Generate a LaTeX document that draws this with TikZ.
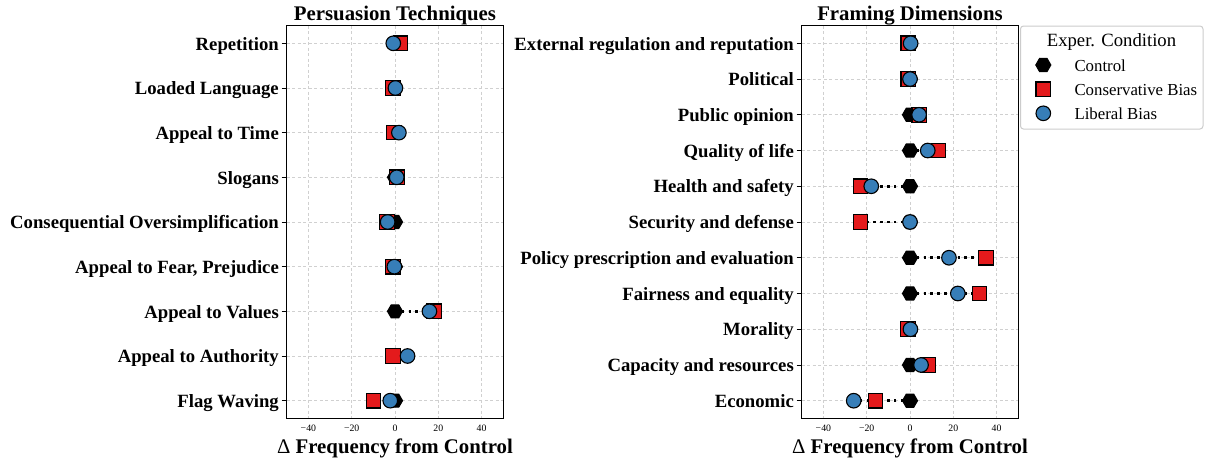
\documentclass[tikz,border=0pt]{standalone}
\usepackage{fontspec}
\setmainfont{Liberation Serif}
\usetikzlibrary{shapes.geometric}
\definecolor{setred}{HTML}{E41A1C}
\definecolor{setblue}{HTML}{377EB8}
\definecolor{gridgray}{HTML}{D0D0D0}
\definecolor{legframe}{HTML}{CCCCCC}
\tikzset{
  ctrlmark/.style={regular polygon, regular polygon sides=6, minimum size=15pt, inner sep=0pt, fill=black, draw=black, line width=1.1pt},
  consmark/.style={rectangle, minimum size=14.6pt, inner sep=0pt, fill=setred, draw=black, line width=1.1pt},
  libmark/.style={circle, minimum size=14.6pt, inner sep=0pt, fill=setblue, draw=black, line width=1.1pt},
  dotline/.style={line width=2.6pt, dash pattern=on 2.6pt off 4.2pt, black},
  gridline/.style={gridgray, line width=0.8pt, dash pattern=on 3pt off 2.5pt},
  frameline/.style={black, line width=1pt},
  tickmark/.style={black, line width=0.9pt},
  ylab/.style={inner sep=0pt, font=\fontsize{18.7pt}{20pt}\selectfont\bfseries},
  titlelab/.style={inner sep=0pt, font=\fontsize{20.8pt}{23pt}\selectfont\bfseries},
  xticklab/.style={inner sep=0pt, font=\fontsize{9.8pt}{11pt}\selectfont},
  legtitle/.style={inner sep=0pt, font=\fontsize{18.7pt}{20pt}\selectfont},
  legtext/.style={inner sep=0pt, font=\fontsize{16.8pt}{18pt}\selectfont},
}
\begin{document}
\begin{tikzpicture}[x=1pt,y=-1pt]
\useasboundingbox (0,0) rectangle (1208,461);
% ---------------- Left panel: Persuasion Techniques ----------------
\foreach \v/\t [count=\k] in {-40/−40,-20/−20,0/0,20/20,40/40}{
  \draw[gridline] ({395+2.165*\v},25.7) -- ({395+2.165*\v},418);
  \node[xticklab, anchor=base] (lxt\k) at ({395+2.165*\v},431) {\t};
}
\foreach \i in {0,...,8}{
  \draw[gridline] (286.5,{43.3+44.67*\i}) -- (503,{43.3+44.67*\i});
}
\draw[frameline] (286.5,25.7) rectangle (503,418);
\foreach \lab/\c/\l [count=\i from 0] in {
  Repetition/2.6/-0.8,
  Loaded Language/-1/0.2,
  Appeal to Time/-0.5/1.8,
  Slogans/1/0.8,
  Consequential Oversimplification/-3.8/-3.4,
  {Appeal to Fear, Prejudice}/-0.9/-0.3,
  Appeal to Values/17.9/15.9,
  Appeal to Authority/-0.9/5.8,
  Flag Waving/-10/-2.2}{
  \pgfmathsetmacro{\yy}{43.3+44.67*\i}
  \node[ylab, anchor=base east] (lyl\i) at (279,\yy+6.7) {\lab};
  \draw[tickmark] (281.7,\yy) -- (286.5,\yy);
  \coordinate (lctrl\i) at (395,\yy);
  \coordinate (lcons\i) at ({395+2.165*\c},\yy);
  \coordinate (llib\i) at ({395+2.165*\l},\yy);
  \draw[dotline] (lctrl\i) -- (lcons\i);
  \draw[dotline] (lctrl\i) -- (llib\i);
  \node[ctrlmark] (lctrlm\i) at (lctrl\i) {};
  \node[consmark] (lconsm\i) at (lcons\i) {};
  \node[libmark] (llibm\i) at (llib\i) {};
}
\node[titlelab, anchor=base] (ltitle) at (395,20) {Persuasion Techniques};
\node[titlelab, anchor=base] (lxlab) at (395,453.3) {{\mdseries Δ} Frequency from Control};
% ---------------- Right panel: Framing Dimensions ----------------
\foreach \v/\t [count=\k] in {-40/−40,-20/−20,0/0,20/20,40/40}{
  \draw[gridline] ({910+2.165*\v},25.7) -- ({910+2.165*\v},418);
  \node[xticklab, anchor=base] (rxt\k) at ({910+2.165*\v},431) {\t};
}
\foreach \i in {0,...,10}{
  \draw[gridline] (801.5,{43.3+35.74*\i}) -- (1018,{43.3+35.74*\i});
}
\draw[frameline] (801.5,25.7) rectangle (1018,418);
\foreach \lab/\c/\l [count=\i from 0] in {
  External regulation and reputation/-0.8/0.3,
  Political/-0.8/0,
  Public opinion/4.3/4.2,
  Quality of life/13.1/8.2,
  Health and safety/-22.8/-17.9,
  Security and defense/-22.8/0,
  Policy prescription and evaluation/35.2/18,
  Fairness and equality/32.1/22.1,
  Morality/-0.9/0.2,
  Capacity and resources/8.2/5.1,
  Economic/-16/-26}{
  \pgfmathsetmacro{\yy}{43.3+35.74*\i}
  \node[ylab, anchor=base east] (ryl\i) at (794,\yy+6.7) {\lab};
  \draw[tickmark] (796.7,\yy) -- (801.5,\yy);
  \coordinate (rctrl\i) at (910,\yy);
  \coordinate (rcons\i) at ({910+2.165*\c},\yy);
  \coordinate (rlib\i) at ({910+2.165*\l},\yy);
  \draw[dotline] (rctrl\i) -- (rcons\i);
  \draw[dotline] (rctrl\i) -- (rlib\i);
  \node[ctrlmark] (rctrlm\i) at (rctrl\i) {};
  \node[consmark] (rconsm\i) at (rcons\i) {};
  \node[libmark] (rlibm\i) at (rlib\i) {};
}
\node[titlelab, anchor=base] (rtitle) at (910,20) {Framing Dimensions};
\node[titlelab, anchor=base] (rxlab) at (910,453.3) {{\mdseries Δ} Frequency from Control};
% ---------------- Legend ----------------
\draw[legframe, fill=white, rounded corners=3pt, line width=1pt] (1020.5,26) rectangle (1203,129);
\node[legtitle, anchor=base] (legt) at (1111.5,46.7) {Exper. Condition};
\node[ctrlmark] (legm1) at (1043.3,65) {};
\node[consmark] (legm2) at (1043.3,89.3) {};
\node[libmark] (legm3) at (1043.3,113.3) {};
\node[legtext, anchor=base west] (legl1) at (1074.3,71) {Control};
\node[legtext, anchor=base west] (legl2) at (1074.3,95.3) {Conservative Bias};
\node[legtext, anchor=base west] (legl3) at (1074.3,119.3) {Liberal Bias};
\end{tikzpicture}
\end{document}
